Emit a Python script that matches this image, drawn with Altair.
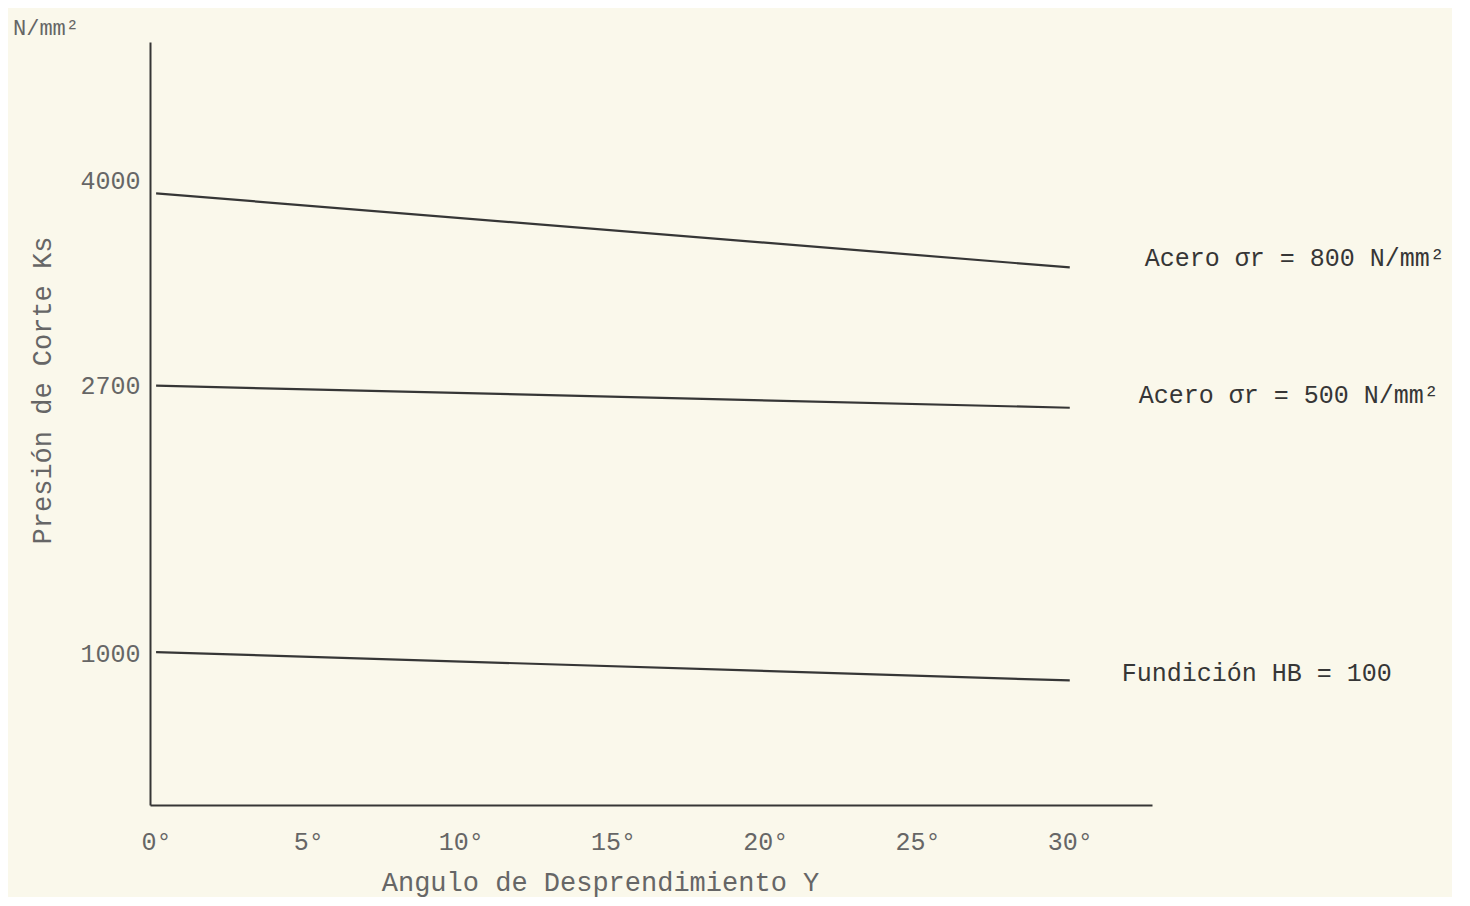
import altair as alt
import pandas as pd

# data
angles = [0, 30]
acero800 = [3920, 3450]
acero500 = [2700, 2560]
fundicion = [1010, 830]
series_names = ["Acero σr = 800 N/mm²", "Acero σr = 500 N/mm²", "Fundición HB = 100"]
x_ticks = [0, 5, 10, 15, 20, 25, 30]
y_ticks = [1000, 2700, 4000]

rows = []
for name, vals in zip(series_names, [acero800, acero500, fundicion]):
    for a, v in zip(angles, vals):
        rows.append({"serie": name, "angulo": a, "ks": v})
df = pd.DataFrame(rows)

lab = pd.DataFrame({
    "serie": series_names,
    "angulo": [angles[-1]] * 3,
    "ks": [acero800[-1], acero500[-1], fundicion[-1]],
})

FONT = "Liberation Mono"
INK = "#363636"
GRAY = "#666666"

xs = alt.Scale(domain=[-0.2, 32.7], nice=False, zero=False)
ys = alt.Scale(domain=[40, 4880], nice=False, zero=False)

lines = alt.Chart(df).mark_line(color=INK, strokeWidth=2.2).encode(
    x=alt.X("angulo:Q", scale=xs,
            axis=alt.Axis(values=x_ticks, labelExpr="datum.value + '°'",
                          title="Angulo de Desprendimiento Y",
                          titleX=450, titleY=85, titleAnchor="start",
                          titleAlign="center", titleBaseline="alphabetic",
                          tickSize=0, labelPadding=24, grid=False)),
    y=alt.Y("ks:Q", scale=ys,
            axis=alt.Axis(values=y_ticks, format="d", title="Presión de Corte Ks",
                          titleX=-108, titleY=348, titleAngle=-90,
                          titleAlign="center", titleBaseline="middle",
                          tickSize=0, labelPadding=10, grid=False)),
    detail="serie:N",
)

def label(i, dx, dy):
    return alt.Chart(lab.iloc[[i]]).mark_text(
        align="left", baseline="middle", dx=dx, dy=dy,
        font=FONT, fontSize=25, color=INK,
    ).encode(x=alt.X("angulo:Q", scale=xs), y=alt.Y("ks:Q", scale=ys), text="serie:N")

chart = alt.layer(
    lines,
    label(0, 75, -9),
    label(1, 69, -13),
    label(2, 52, -7),
).properties(
    width=1002,
    height=763,
    background="#faf8eb",
    padding={"left": 142, "top": 34, "right": 300, "bottom": 92},
    autosize=alt.AutoSizeParams(type="none"),
    title=alt.TitleParams("N/mm²", anchor="start", frame="group", dx=-137, dy=-2,
                          font=FONT, fontSize=22, fontWeight="normal", color=GRAY,
                          offset=0),
).configure_axis(
    domainColor=INK, domainWidth=2,
    labelFont=FONT, labelFontSize=25, labelColor=GRAY,
    titleFont=FONT, titleFontSize=27, titleColor=GRAY, titleFontWeight="normal",
).configure_view(stroke=None)

chart.save("out.html", embed_options={"renderer": "svg", "actions": False})
